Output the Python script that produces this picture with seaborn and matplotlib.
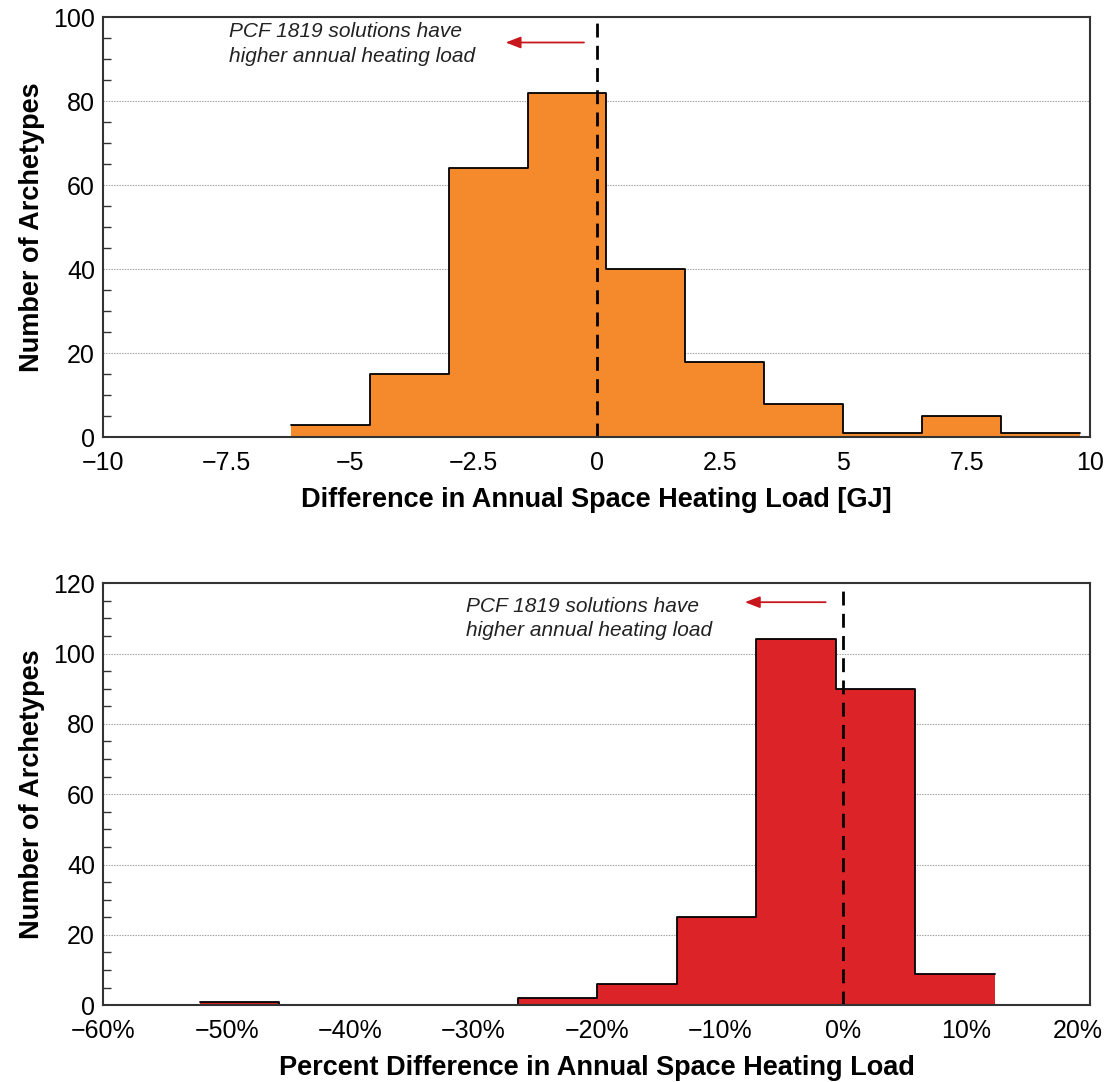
import numpy as np
import pandas as pd
import matplotlib
matplotlib.use("Agg")
import matplotlib.pyplot as plt
from matplotlib.ticker import MultipleLocator, FuncFormatter
from matplotlib.transforms import ScaledTranslation
import seaborn as sns

# histogram bins
gj_edges = [-6.2, -4.6, -3.0, -1.4, 0.2, 1.8, 3.4, 5.0, 6.6, 8.2, 9.8]
gj_counts = [3, 15, 64, 82, 40, 18, 8, 1, 5, 1]

pct_edges = [-52.2, -45.75, -39.3, -32.85, -26.4, -19.95, -13.5, -7.05, -0.6, 5.85, 12.3]
pct_counts = [1, 0, 0, 0, 2, 6, 25, 104, 90, 9]

note_text = "PCF 1819 solutions have\nhigher annual heating load"
ylabel = "Number of Archetypes"
xlabel_top = "Difference in Annual Space Heating Load [GJ]"
xlabel_bot = "Percent Difference in Annual Space Heating Load"

ORANGE = "#F48A2B"
RED = "#DC2328"
ARROW_RED = "#C8161D"

sns.set_style("white")
plt.rcParams["font.family"] = ["Liberation Sans", "DejaVu Sans"]
plt.rcParams["text.color"] = "black"
plt.rcParams["axes.labelcolor"] = "black"
plt.rcParams["xtick.labelcolor"] = "black"
plt.rcParams["ytick.labelcolor"] = "black"


def minus(s):
    return s.replace("-", "\u2212")


def style_axes(ax, ymax, xlabel):
    ax.set_ylim(0, ymax)
    ax.yaxis.set_major_locator(MultipleLocator(20))
    ax.yaxis.set_minor_locator(MultipleLocator(5))
    ax.tick_params(axis="both", which="major", direction="in", length=10, width=1.2,
                   labelsize=18, color="#333333", labelcolor="black", pad=6)
    ax.tick_params(axis="x", which="major", pad=10)
    ax.tick_params(axis="y", which="minor", direction="in", length=5.5, width=1.0,
                   color="#333333", left=True)
    ax.tick_params(top=False, right=False)
    ax.yaxis.grid(True, linestyle=(0, (1.2, 1.2)), color="#9a9a9a", linewidth=0.8)
    ax.xaxis.grid(False)
    ax.set_axisbelow(True)
    for sp in ax.spines.values():
        sp.set_color("#333333")
        sp.set_linewidth(1.5)
    ax.set_ylabel(ylabel, fontsize=19.5, fontweight="bold", labelpad=6, color="black")
    ax.set_xlabel(xlabel, fontsize=19.5, fontweight="bold", labelpad=8.5, color="black")


def draw_hist(ax, edges, counts, color):
    e = np.array(edges)
    df = pd.DataFrame({"x": (e[:-1] + e[1:]) / 2, "n": counts})
    # filled area, then the step outline on top (no drop at the ends)
    sns.histplot(data=df, x="x", weights="n", bins=list(edges), element="step", fill=True,
                 color=color, alpha=1, linewidth=0, ax=ax)
    sns.histplot(data=df, x="x", weights="n", bins=list(edges), element="step", fill=False,
                 color="black", linewidth=1.3, ax=ax)


fig = plt.figure(figsize=(11.11, 10.82), dpi=100)
ax1 = fig.add_axes([0.093, 0.596, 0.888, 0.388])
ax2 = fig.add_axes([0.093, 0.071, 0.888, 0.390])

# top: absolute difference
draw_hist(ax1, gj_edges, gj_counts, ORANGE)
ax1.set_xlim(-10, 10)
ax1.xaxis.set_major_locator(MultipleLocator(2.5))
ax1.xaxis.set_major_formatter(FuncFormatter(lambda v, p: minus(f"{v:g}")))
style_axes(ax1, 100, xlabel_top)
ax1.axvline(0, color="black", linestyle=(0, (5, 3)), linewidth=2)
ax1.text(-7.45, 98.8, note_text, fontsize=15, fontstyle="italic", va="top", ha="left",
         linespacing=1.35, color="#222222")
ax1.annotate("", xy=(-1.9, 94), xytext=(-0.2, 94),
             arrowprops=dict(arrowstyle="-|>,head_length=0.9,head_width=0.35",
                             color=ARROW_RED, lw=1.3))

# bottom: percent difference
draw_hist(ax2, pct_edges, pct_counts, RED)
ax2.set_xlim(-60, 20)
ax2.xaxis.set_major_locator(MultipleLocator(10))
ax2.xaxis.set_major_formatter(FuncFormatter(lambda v, p: minus(f"{v:.0f}%")))
style_axes(ax2, 120, xlabel_bot)
ax2.axvline(0, color="black", linestyle=(0, (5, 3)), linewidth=2)
ax2.text(-30.6, 116.2, note_text, fontsize=15, fontstyle="italic", va="top", ha="left",
         linespacing=1.35, color="#222222")
ax2.annotate("", xy=(-8.2, 114.6), xytext=(-1.2, 114.6),
             arrowprops=dict(arrowstyle="-|>,head_length=0.9,head_width=0.35",
                             color=ARROW_RED, lw=1.3))

# the last percent label sits a little inside the frame, as in the original
fig.canvas.draw()
for tick in ax2.xaxis.get_major_ticks():
    if tick.label1.get_text() == "20%":
        lab = tick.label1
        lab.set_transform(lab.get_transform() + ScaledTranslation(-0.12, 0, fig.dpi_scale_trans))

fig.savefig("out.png", dpi=100)
